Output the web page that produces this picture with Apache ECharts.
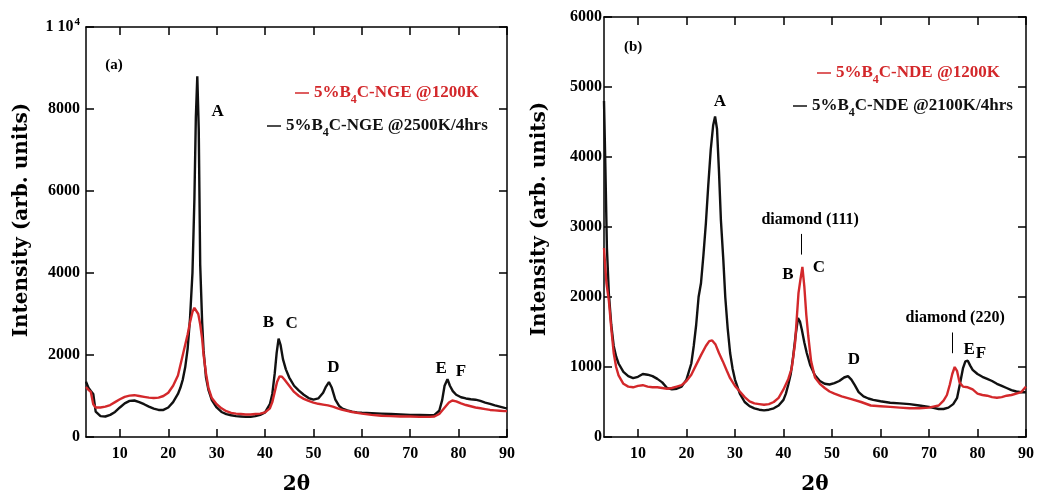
<!DOCTYPE html>
<html>
<head>
<meta charset="utf-8">
<script src="https://cdn.jsdelivr.net/npm/echarts@6.0.0/dist/echarts.min.js"></script>
<style>
  html, body { margin: 0; padding: 0; background: #fff; }
  #chart { width: 1037px; height: 500px; }
</style>
</head>
<body>
<div id="chart"></div>
<script>
// ---------- Panel (a): 5%B4C-NGE ----------
const ngeAnnealAngle = [3,3.5,4,4.5,5,6,7,8,9,10,11,12,13,14,15,16,17,18,19,20,21,22,22.5,23,23.5,24,24.5,25,25.4,25.7,26,26.3,26.6,27,27.3,27.8,28.3,29,30,31,32,33,34,35,36,37,38,39,40,41,41.5,42,42.4,42.8,43.2,43.7,44.3,45,46,47,48,49,50,51,52,52.6,53.2,53.8,54.5,55.3,56,57,58,59,60,62,64,66,68,70,72,74,75,76,76.6,77.1,77.7,78.2,78.8,79.5,80.5,81.5,82.5,83.5,84.5,85.5,86.5,87.5,88.5,89.5,90];
const ngeAnnealCounts = [1350,1200,1120,1050,620,510,500,540,610,720,820,880,890,850,800,740,690,660,660,720,850,1050,1200,1400,1700,2150,2900,4000,5800,7800,8800,7500,4200,2800,2100,1450,1150,900,720,610,560,530,510,500,490,490,510,540,600,800,1050,1550,2050,2400,2250,1900,1650,1450,1250,1130,1030,950,910,940,1080,1230,1340,1200,920,760,690,650,620,600,590,580,570,560,550,540,535,530,540,640,900,1250,1410,1250,1120,1030,970,940,920,910,880,840,810,770,740,710,700];

const ngeRawAngle = [3,3.5,4,4.5,5,6,7,8,9,10,11,12,13,14,15,16,17,18,19,20,21,22,22.5,23,23.5,24,24.5,25,25.4,25.8,26.2,26.6,27,27.3,27.8,28.3,29,30,31,32,33,34,35,36,37,38,39,40,41,41.5,42,42.5,43,43.5,44,45,46,47,48,49,50,51,52,53,54,55,56,58,60,62,64,66,68,70,72,74,75,76,77,78,78.7,79.5,80.5,81.5,82.5,83.5,84.5,85.5,86.5,87.5,88.5,89.5,90];
const ngeRawCounts = [1220,1150,1100,800,720,720,740,780,850,920,980,1010,1020,1000,980,960,950,960,1000,1080,1250,1500,1750,2000,2250,2500,2800,3050,3150,3150,3000,2750,2400,2000,1550,1200,950,800,700,630,590,570,560,550,550,560,570,600,700,850,1100,1350,1480,1470,1400,1250,1100,1000,930,880,840,810,790,770,740,700,660,610,570,540,520,510,500,500,490,490,500,560,700,840,890,870,820,780,750,720,700,680,660,650,640,630,630];

// ---------- Panel (b): 5%B4C-NDE ----------
const ndeAnnealAngle = [3,3.3,3.6,4,4.5,5,5.5,6,7,8,9,10,11,12,13,14,15,16,17,18,19,20,21,21.5,22,22.5,23,23.5,24,24.5,25,25.5,25.9,26.3,26.7,27.1,27.6,28,28.5,29,29.5,30,31,32,33,34,35,36,37,38,39,40,40.5,41,41.5,42,42.5,43,43.4,43.8,44.3,44.8,45.5,46.5,47.5,48.5,49.5,50.5,51.5,52.5,53.3,54,54.7,55.5,56.5,57.5,58.5,60,62,64,66,68,70,72,73,74,75,75.8,76.5,77,77.5,78,78.5,79,80,81,82,83,84,85,86,87,88,89,90];
const ndeAnnealCounts = [4800,3800,2700,2050,1600,1300,1150,1050,930,870,840,860,900,890,870,830,780,700,680,690,720,820,1050,1300,1600,2000,2200,2600,3050,3600,4100,4450,4580,4400,3800,3100,2530,2000,1550,1200,980,820,620,500,440,410,390,380,390,410,450,530,620,750,900,1150,1450,1700,1650,1530,1350,1200,1030,880,800,760,750,770,800,850,870,820,740,640,580,550,530,510,490,480,470,450,430,400,400,420,470,560,800,980,1080,1090,1020,960,900,860,830,800,760,730,700,670,650,640,640];

const ndeRawAngle = [3,3.5,4,4.5,5,5.5,6,7,8,9,10,11,12,13,14,15,16,17,18,19,20,21,22,23,24,24.7,25.3,26,26.7,27.5,28.3,29,30,31,32,33,34,35,36,37,38,39,40,41,41.7,42.4,43.1,43.5,43.9,44.3,44.7,45.1,45.7,46.5,47.5,48.5,49.5,50.5,52,54,56,58,60,62,64,66,68,70,72,73,73.7,74.3,74.8,75.3,75.8,76.3,77,78,79,80,81,82,83,84,85,86,87,88,89,89.6,90];
const ndeRawCounts = [2700,2200,1950,1550,1200,1000,880,760,720,710,730,740,720,710,710,700,690,700,720,740,800,890,1030,1170,1300,1370,1380,1320,1200,1080,950,840,730,650,570,510,480,470,460,470,500,560,680,830,980,1350,2060,2250,2430,2150,1750,1450,1080,850,760,700,650,620,580,540,500,450,440,430,420,410,410,420,450,520,600,750,900,1000,940,780,720,710,680,620,600,590,570,560,570,590,600,620,640,690,720];

// ---------- Axis ticks ----------
const angleTicks = [10,20,30,40,50,60,70,80,90];

// ---------- Text annotations: [2θ, intensity, text, style] ----------
const notesA = [
  [8.8, 9071, '(a)', 'tag'],
  [30.2, 7943, 'A', 'pk'],
  [40.7, 2784, 'B', 'pk'],
  [45.5, 2760, 'C', 'pk'],
  [54.1, 1704, 'D', 'pk'],
  [76.4, 1656, 'E', 'pk'],
  [80.5, 1584, 'F', 'pk']
];
const notesB = [
  [9.0, 5563, '(b)', 'tag'],
  [26.9, 4789, 'A', 'pk'],
  [45.5, 3099, 'diamond (111)', 'hkl'],
  [40.9, 2324, 'B', 'pk'],
  [47.3, 2423, 'C', 'pk'],
  [54.5, 1099, 'D', 'pk'],
  [75.4, 1704, 'diamond (220)', 'hkl'],
  [78.3, 1254, 'E', 'pk'],
  [80.7, 1197, 'F', 'pk']
];
// Diamond reflection markers: [2θ, lower intensity, upper intensity]
const diamondMarks = [[43.6, 2606, 2901], [74.8, 1197, 1493]];

const seriesNames = {
  ngeRaw: '5%B4C-NGE @1200K',
  ngeAnneal: '5%B4C-NGE @2500K/4hrs',
  ndeRaw: '5%B4C-NDE @1200K',
  ndeAnneal: '5%B4C-NDE @2100K/4hrs'
};

const RED = '#d3282b';
const BLACK = '#111111';
const SERIF = '"Liberation Serif", "Times New Roman", serif';
const SLAB = '"DejaVu Serif", serif';
const noteSizes = { pk: 17, tag: 15, hkl: 16 };

const zip = (xs, ys) => xs.map((x, i) => [x, ys[i]]);

function xAxisPair(gridIndex) {
  const line = { show: true, onZero: false, lineStyle: { color: '#000', width: 1.5 } };
  const tick = { show: true, inside: true, length: 8, customValues: angleTicks, lineStyle: { color: '#000', width: 1.5 } };
  return [
    {
      type: 'value', gridIndex, position: 'bottom', min: 3, max: 90,
      axisLine: line, axisTick: tick, splitLine: { show: false },
      axisLabel: { customValues: angleTicks, margin: 9, color: '#000', fontFamily: SERIF, fontWeight: 'bold', fontSize: 16 },
      name: '2θ', nameLocation: 'middle', nameGap: 38,
      nameTextStyle: { color: '#000', fontFamily: SLAB, fontWeight: 'bold', fontSize: 20 }
    },
    {
      type: 'value', gridIndex, position: 'top', min: 3, max: 90,
      axisLine: line, axisTick: tick, splitLine: { show: false },
      axisLabel: { show: false }
    }
  ];
}

function yAxisPair(gridIndex, max, step, margin, fmt) {
  const line = { show: true, onZero: false, lineStyle: { color: '#000', width: 1.5 } };
  const tick = { show: true, inside: true, length: 8, lineStyle: { color: '#000', width: 1.5 } };
  return [
    {
      type: 'value', gridIndex, position: 'left', min: 0, max, interval: step,
      axisLine: line, axisTick: tick, splitLine: { show: false },
      axisLabel: {
        margin, color: '#000', fontFamily: SERIF, fontWeight: 'bold', fontSize: 16,
        formatter: fmt,
        rich: {
          m: { fontFamily: SERIF, fontWeight: 'bold', fontSize: 16, color: '#000' },
          p: { fontFamily: SERIF, fontWeight: 'bold', fontSize: 11, color: '#000', verticalAlign: 'top', padding: [0, 0, 10, 1] }
        }
      }
    },
    {
      type: 'value', gridIndex, position: 'right', min: 0, max, interval: step,
      axisLine: line, axisTick: tick, splitLine: { show: false },
      axisLabel: { show: false }
    }
  ];
}

// Splits "5%B4C-..." into rich tokens with the 4 set as a subscript
function subscriptName(name) {
  const i = name.indexOf('B4C');
  return '{t|' + name.slice(0, i + 1) + '}{s|4}{t|' + name.slice(i + 2) + '}';
}

function legendItem(name, color, left, top) {
  return {
    data: [{ name }], left, top, padding: 0, orient: 'horizontal',
    icon: 'rect', itemWidth: 14, itemHeight: 1.5, selectedMode: false,
    formatter: subscriptName,
    textStyle: {
      color, fontFamily: SERIF, fontWeight: 'bold', fontSize: 17,
      rich: {
        t: { color, fontFamily: SERIF, fontWeight: 'bold', fontSize: 17, lineHeight: 20, verticalAlign: 'middle' },
        s: { color, fontFamily: SERIF, fontWeight: 'bold', fontSize: 12, lineHeight: 20, verticalAlign: 'middle', padding: [14, 0, 0, 0] }
      }
    }
  };
}

// Text-only scatter: each entry is placed at its (2θ, intensity) position
function noteSeries(xi, yi, notes) {
  return {
    type: 'scatter', xAxisIndex: xi, yAxisIndex: yi, symbolSize: 1,
    itemStyle: { color: 'rgba(255,255,255,0)', opacity: 1 },
    silent: true, z: 6,
    data: notes.map(n => ({
      value: [n[0], n[1]],
      name: n[2],
      label: { fontSize: noteSizes[n[3]] }
    })),
    label: {
      show: true, position: 'inside', formatter: '{b}',
      color: '#000', fontFamily: SERIF, fontWeight: 'bold', fontSize: 17,
      textBorderWidth: 0, opacity: 1
    },
    emphasis: { disabled: true }
  };
}

function curve(name, xi, yi, angle, counts, color, extra) {
  return Object.assign({
    name, type: 'line', xAxisIndex: xi, yAxisIndex: yi,
    data: zip(angle, counts), showSymbol: false, symbol: 'none',
    lineStyle: { color, width: 2.4 }, itemStyle: { color }, z: 3
  }, extra || {});
}

const chart = echarts.init(document.getElementById('chart'), null, { renderer: 'canvas' });

chart.setOption({
  animation: false,
  backgroundColor: '#fff',
  grid: [
    { left: 86, top: 27, width: 421, height: 417 },
    { left: 604, top: 17, width: 422, height: 426 }
  ],
  xAxis: [...xAxisPair(0), ...xAxisPair(1)],
  yAxis: [
    ...yAxisPair(0, 10000, 2000, 6, v => v === 10000 ? '{m|1 10}{p|4}' : String(v)),
    ...yAxisPair(1, 6000, 1000, 2, v => String(v))
  ],
  legend: [
    legendItem(seriesNames.ngeRaw, RED, 295, 80),
    legendItem(seriesNames.ngeAnneal, BLACK, 267, 113),
    legendItem(seriesNames.ndeRaw, RED, 817, 60),
    legendItem(seriesNames.ndeAnneal, BLACK, 793, 93)
  ],
  graphic: [
    {
      type: 'text', x: 22, y: 220, rotation: Math.PI / 2,
      style: { text: 'Intensity (arb. units)', font: 'bold 20px "DejaVu Serif"', fill: '#000', align: 'center', verticalAlign: 'middle' }
    },
    {
      type: 'text', x: 540, y: 219, rotation: Math.PI / 2,
      style: { text: 'Intensity (arb. units)', font: 'bold 20px "DejaVu Serif"', fill: '#000', align: 'center', verticalAlign: 'middle' }
    }
  ],
  series: [
    curve(seriesNames.ngeAnneal, 0, 0, ngeAnnealAngle, ngeAnnealCounts, BLACK),
    curve(seriesNames.ngeRaw, 0, 0, ngeRawAngle, ngeRawCounts, RED),
    curve(seriesNames.ndeAnneal, 2, 2, ndeAnnealAngle, ndeAnnealCounts, BLACK),
    curve(seriesNames.ndeRaw, 2, 2, ndeRawAngle, ndeRawCounts, RED, {
      markLine: {
        silent: true, symbol: 'none', label: { show: false },
        lineStyle: { color: '#000', width: 1, type: 'solid' },
        data: diamondMarks.map(d => [{ coord: [d[0], d[1]] }, { coord: [d[0], d[2]] }])
      }
    }),
    noteSeries(0, 0, notesA),
    noteSeries(2, 2, notesB)
  ]
});
</script>
</body>
</html>
